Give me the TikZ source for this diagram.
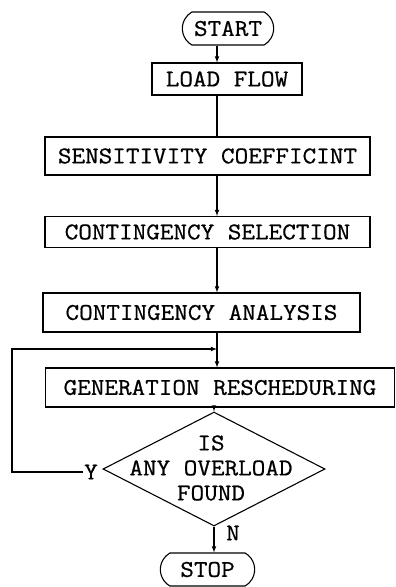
\documentclass[tikz,border=0pt]{standalone}
\usepackage{fontspec}
\setmonofont{Latin Modern Mono}[FakeStretch=1.1,FakeBold=0.7]
\usetikzlibrary{arrows,shapes.geometric,shapes.misc}
\tikzset{%
	startstop/.style = {draw, rounded rectangle, rounded rectangle arc length=120, minimum width=98pt, minimum height=33pt, text centered},
	process/.style   = {draw, rectangle, minimum height=38pt, text centered},
	decision/.style  = {draw, diamond, minimum width=222pt, minimum height=114pt, inner sep=0pt},
	arrow/.style     = {-latex},
}

\begin{document}
\begin{tikzpicture}[x=1pt,y=-1pt,line width=1.1pt,font=\ttfamily\fontsize{24}{25}\selectfont]
	\useasboundingbox (0,0) rectangle (396,587);
	\coordinate (ax) at (217,0);
	\node[startstop] (start) at (228,28.5) {START};
	\node[process, minimum width=150pt, minimum height=32pt] (load) at (227,79) {LOAD FLOW};
	\node[process, minimum width=325pt] (sens) at (207.5,156) {SENSITIVITY COEFFICINT};
	\node[process, minimum width=325pt, minimum height=31pt] (sel) at (207.5,232) {CONTINGENCY SELECTION};
	\node[process, minimum width=317pt, minimum height=39pt] (ana) at (201.5,312.5) {CONTINGENCY ANALYSIS};
	\node[process, minimum width=349pt, minimum height=39pt] (gen) at (220,387.5) {GENERATION RESCHEDURING};
	\node[decision] (dec) at (214,469) {};
	\node[align=center] (decq) at (211,468) {IS\\ANY OVERLOAD\\FOUND};
	\node[startstop, minimum width=101pt] (stop) at (207.5,569.5) {STOP};
	\node[inner sep=1pt] (ylab) at (91,472) {Y};
	\node (nlab) at (233,533) {N};
	\coordinate (join) at (217,349);
	\coordinate (back) at (12,349);
	% main line
	\draw[arrow] (start.south -| ax) -- (load.north -| ax);
	\draw (load.south -| ax) -- (sens.north -| ax);
	\draw[arrow] (sens.south -| ax) -- (sel.north -| ax);
	\draw[arrow] (sel.south -| ax) -- (ana.north -| ax);
	\draw[arrow] (ana.south -| ax) -- (gen.north -| ax);
	\draw[arrow] (gen.south -| dec.north) -- (dec.north);
	\draw[arrow] (dec.south) -- (stop.north -| dec.south);
	% loop back
	\draw[arrow] (ylab.west) -| (back) -- (join);
\end{tikzpicture}
\end{document}
